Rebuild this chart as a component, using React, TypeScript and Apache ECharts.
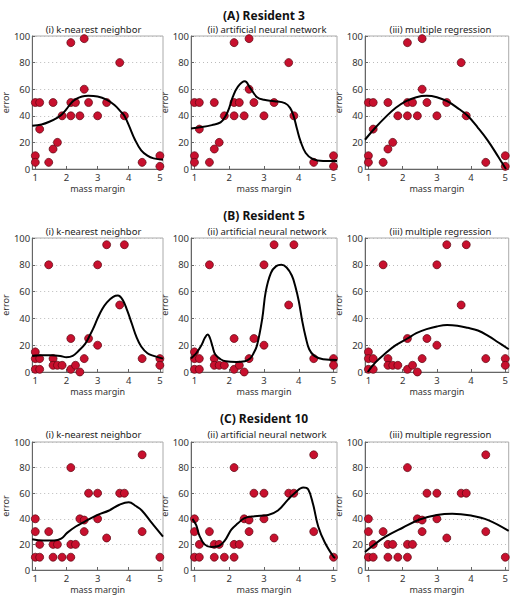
import React, { useEffect, useRef } from "react";
import * as echarts from "echarts";

// ---- Data ----
const residents = ["(A) Resident 3", "(B) Resident 5", "(C) Resident 10"];
const methods = ["(i) k-nearest neighbor", "(ii) artificial neural network", "(iii) multiple regression"];
const xTicks = [1, 2, 3, 4, 5];

// Resident 3 observations
const massMarginR3 = [1, 1, 1, 1.14, 1.14, 1.43, 1.57, 1.57, 1.71, 1.86, 2.14, 2.14, 2.14, 2.29, 2.43, 2.57, 2.57, 2.71, 3.0, 3.29, 3.71, 3.86, 4.43, 5, 5];
const errorR3 = [50, 10, 5, 50, 30, 5, 50, 15, 20, 40, 95, 50, 40, 50, 40, 98, 60, 50, 40, 50, 80, 40, 5, 10, 2];

// Resident 5 observations
const massMarginR5 = [1, 1, 1, 1.14, 1.14, 1.43, 1.57, 1.57, 1.71, 1.86, 2.14, 2.14, 2.29, 2.43, 2.57, 2.71, 3, 3, 3.29, 3.71, 3.86, 4.43, 5, 5];
const errorR5 = [15, 10, 2, 10, 2, 80, 10, 5, 5, 5, 25, 2, 5, 0, 10, 25, 80, 20, 95, 50, 95, 10, 10, 5];

// Resident 10 observations
const massMarginR10 = [1, 1, 1, 1.14, 1.14, 1.43, 1.57, 1.57, 1.71, 1.86, 2.14, 2.14, 2.14, 2.29, 2.43, 2.57, 2.57, 2.71, 3, 3, 3.29, 3.71, 3.86, 4.43, 4.43, 5];
const errorR10 = [40, 30, 10, 20, 10, 30, 20, 10, 20, 10, 80, 20, 10, 20, 40, 39, 30, 60, 60, 40, 25, 60, 60, 90, 30, 10];

// Fitted curves
const knnR3X = [0.9, 1.2, 1.45, 1.7, 1.85, 2.0, 2.15, 2.3, 2.5, 2.7, 3.0, 3.3, 3.55, 3.75, 3.86, 4.0, 4.2, 4.4, 4.6, 4.8, 5.1];
const knnR3Y = [32.5, 33.5, 35.5, 38.5, 41, 45, 49.5, 52.5, 54.5, 55, 54.5, 52, 48, 43, 40, 33, 22, 14, 10, 8, 7];
const annR3X = [0.9, 1.2, 1.5, 1.75, 1.9, 2.0, 2.1, 2.25, 2.45, 2.6, 2.8, 3.0, 3.3, 3.6, 3.75, 3.85, 3.95, 4.05, 4.2, 4.4, 4.7, 5.1];
const annR3Y = [30.5, 31.5, 33, 35, 40, 46, 54, 62, 66, 61, 54, 52, 51, 49.5, 46, 40, 30, 21, 12, 7.5, 6, 6];
const regR3X = [0.9, 1.2, 1.5, 1.8, 2.1, 2.4, 2.7, 3.0, 3.3, 3.6, 3.9, 4.2, 4.5, 4.8, 5.02];
const regR3Y = [22, 31, 39, 46, 51, 54, 55, 54, 51, 46, 40, 31, 21, 9, 0];

const knnR5X = [0.9, 1.2, 1.5, 1.8, 2.0, 2.2, 2.4, 2.6, 2.72, 2.85, 3.0, 3.15, 3.3, 3.5, 3.65, 3.8, 3.95, 4.1, 4.25, 4.4, 4.6, 4.8, 5.1];
const knnR5Y = [12, 12.5, 12.5, 12, 11, 12, 16, 21, 26, 32, 40, 47, 52, 56, 57, 54, 46, 36, 26, 19, 14, 12, 10];
const annR5X = [0.9, 1.05, 1.2, 1.3, 1.38, 1.45, 1.52, 1.6, 1.75, 1.9, 2.2, 2.45, 2.6, 2.7, 2.8, 2.95, 3.05, 3.2, 3.35, 3.5, 3.65, 3.8, 3.9, 4.0, 4.1, 4.2, 4.3, 4.45, 4.7, 5.1];
const annR5Y = [10, 14, 20, 25.5, 28, 25, 19, 13, 9.5, 8, 7.5, 8, 10, 14, 20, 40, 60, 74, 79, 80, 78, 72, 64, 53, 38, 26, 17, 12, 9.5, 9];
const regR5X = [0.98, 1.2, 1.5, 1.8, 2.14, 2.4, 2.7, 3.0, 3.3, 3.6, 3.9, 4.2, 4.5, 4.8, 5.1];
const regR5Y = [0, 7, 14, 20, 25, 29, 32, 34, 35, 34.5, 33, 31, 27, 22, 17];

const knnR10X = [0.9, 1.25, 1.6, 1.83, 2.02, 2.3, 2.6, 3.0, 3.37, 3.7, 4.0, 4.23, 4.42, 4.7, 5.1];
const knnR10Y = [24, 23, 23, 24.5, 29, 34, 38, 43, 46.5, 51, 53, 50, 46.5, 38, 26];
const annR10X = [0.94, 1.05, 1.14, 1.29, 1.48, 1.67, 1.87, 2.06, 2.25, 2.44, 2.73, 3.12, 3.4, 3.69, 3.88, 4.13, 4.27, 4.41, 4.56, 4.75, 5.0, 5.05];
const annR10Y = [40, 35, 27, 20, 18, 18.5, 23, 31.5, 36.5, 40.5, 42, 43, 46.5, 55, 60, 64.5, 63, 51.5, 34, 21.5, 10.3, 9.5];
const regR10X = [0.9, 1.2, 1.5, 2.0, 2.5, 3.0, 3.45, 4.0, 4.5, 5.1];
const regR10Y = [14, 20.5, 26, 33, 39.5, 43, 44, 42.5, 39, 30.5];

const observations = [
  [massMarginR3, errorR3],
  [massMarginR5, errorR5],
  [massMarginR10, errorR10],
];
const curves = [
  [[knnR3X, knnR3Y], [annR3X, annR3Y], [regR3X, regR3Y]],
  [[knnR5X, knnR5Y], [annR5X, annR5Y], [regR5X, regR5Y]],
  [[knnR10X, knnR10Y], [annR10X, annR10Y], [regR10X, regR10Y]],
];

// ---- Layout ----
const colLeft = [18, 191, 365];
const colWidth = [145, 146, 145];
const rowTop = [36, 238, 442];
const rowHeight = [133, 134, 133];
const titleTop = [4, 204, 407];
const subTop = [19, 221, 424];
const FONT = "'Noto Sans', sans-serif";

const zip = (xs: number[], ys: number[]) => xs.map((x, i) => [x, ys[i]]);

export default function App() {
  const ref = useRef<HTMLDivElement>(null);
  useEffect(() => {
    if (!ref.current) return;
    const chart = echarts.init(ref.current, null, { renderer: "svg" });
    const grid: any[] = [];
    const xAxis: any[] = [];
    const yAxis: any[] = [];
    const series: any[] = [];
    const title: any[] = [];
    for (let r = 0; r < 3; r++) {
      title.push({
        text: residents[r],
        left: 259,
        top: titleTop[r],
        textAlign: "center",
        textStyle: { fontFamily: FONT, fontSize: 12, fontWeight: "bold", color: "#111" },
      });
      for (let c = 0; c < 3; c++) {
        const idx = r * 3 + c;
        grid.push({
          left: colLeft[c],
          top: rowTop[r],
          width: colWidth[c],
          height: rowHeight[r],
          show: true,
          borderColor: "#aaa",
          borderWidth: 1,
          backgroundColor: "transparent",
        });
        title.push({
          text: methods[c],
          left: colLeft[c] + colWidth[c] / 2 - 2,
          top: subTop[r],
          textAlign: "center",
          textStyle: { fontFamily: FONT, fontSize: 9.5, fontWeight: "normal", color: "#222" },
        });
        xAxis.push({
          type: "value",
          gridIndex: idx,
          min: 0.9,
          max: 5.1,
          name: "mass margin",
          nameLocation: "middle",
          nameGap: 15,
          nameTextStyle: { fontFamily: FONT, fontSize: 9, color: "#333" },
          axisLine: { show: true, lineStyle: { color: "#666", width: 1 } },
          axisTick: { show: true, inside: true, length: 3, customValues: xTicks, lineStyle: { color: "#666" } },
          axisLabel: { customValues: xTicks, fontFamily: FONT, fontSize: 9.5, color: "#333", margin: 3 },
          splitLine: { show: false },
        });
        yAxis.push({
          type: "value",
          gridIndex: idx,
          min: 0,
          max: 100,
          interval: 20,
          name: "error",
          nameLocation: "middle",
          nameGap: 15,
          nameRotate: 90,
          nameTextStyle: { fontFamily: FONT, fontSize: 9, color: "#333" },
          axisLine: { show: true, lineStyle: { color: "#666", width: 1 } },
          axisTick: { show: true, inside: true, length: 3, lineStyle: { color: "#666" } },
          axisLabel: { fontFamily: FONT, fontSize: 9.5, color: "#333", margin: 2 },
          splitLine: { show: true, lineStyle: { type: [1, 3], color: "#bbb", width: 1 } },
        });
        const [xs, ys] = observations[r];
        series.push({
          type: "scatter",
          xAxisIndex: idx,
          yAxisIndex: idx,
          data: zip(xs, ys),
          symbol: "circle",
          symbolSize: 8,
          itemStyle: { color: "#c8102e", borderColor: "#5a0610", borderWidth: 0.7, opacity: 1 },
          z: 2,
        });
        const [cx, cy] = curves[r][c];
        series.push({
          type: "line",
          xAxisIndex: idx,
          yAxisIndex: idx,
          data: zip(cx, cy),
          showSymbol: false,
          smooth: 0.4,
          clip: true,
          lineStyle: { color: "#000", width: 2 },
          z: 3,
        });
      }
    }
    chart.setOption({
      animation: false,
      backgroundColor: "#fff",
      title,
      grid,
      xAxis,
      yAxis,
      series,
    });
    return () => chart.dispose();
  }, []);
  return (
    <div
      ref={ref}
      style={{ position: "absolute", left: 0, top: 0, width: 511, height: 595 }}
    />
  );
}
